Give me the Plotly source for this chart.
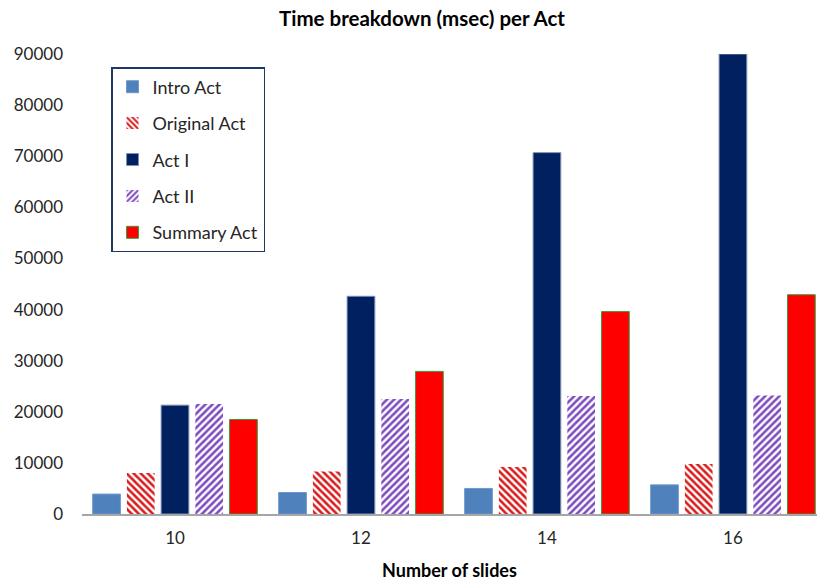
import plotly.graph_objects as go

# Number of slides per presentation (x categories)
slides = ["10", "12", "14", "16"]

# Time spent in each act, in milliseconds
intro_act = [3900, 4200, 5000, 5700]
original_act = [8000, 8300, 9200, 9800]
act_one = [21300, 42600, 70700, 90000]
act_two = [21500, 22500, 23100, 23200]
summary_act = [18500, 27900, 39600, 42900]

y_ticks = [0, 10000, 20000, 30000, 40000, 50000, 60000, 70000, 80000, 90000]
y_tick_labels = [str(v) for v in y_ticks]

FONT = "Lato, 'Open Sans', sans-serif"

fig = go.Figure()

fig.add_trace(go.Bar(
    name="Intro Act", x=slides, y=intro_act, legendgroup="a",
    marker=dict(color="#4F81BD", line=dict(color="#6E97CB", width=1)),
))
fig.add_trace(go.Bar(
    name="Original Act", x=slides, y=original_act, legendgroup="b",
    marker=dict(color="white", line=dict(width=0),
                pattern=dict(shape="\\", fillmode="overlay", fgcolor="#D81E1E",
                             fgopacity=1, size=5, solidity=0.52)),
))
fig.add_trace(go.Bar(
    name="Act I", x=slides, y=act_one, legendgroup="c",
    marker=dict(color="#002060", line=dict(color="#8090B0", width=1)),
))
fig.add_trace(go.Bar(
    name="Act II", x=slides, y=act_two, legendgroup="d",
    marker=dict(color="white", line=dict(width=0),
                pattern=dict(shape="/", fillmode="overlay", fgcolor="#7E4CBF",
                             fgopacity=1, size=5, solidity=0.52)),
))
fig.add_trace(go.Bar(
    name="Summary Act", x=slides, y=summary_act, legendgroup="e",
    marker=dict(color="#FF0000", line=dict(color="#3A9A3A", width=1)),
))

fig.update_layout(
    width=817, height=583,
    margin=dict(l=82, r=0, t=54, b=69),
    paper_bgcolor="white", plot_bgcolor="white",
    font=dict(family=FONT, size=17, color="#262626"),
    barmode="group", bargap=0.08, bargroupgap=0.19,
    showlegend=True,
    legend=dict(
        x=0.0395, y=0.9717, xanchor="left", yanchor="top",
        bordercolor="#1F3864", borderwidth=1.5, bgcolor="white",
        font=dict(family=FONT, size=18, color="#262626"),
        tracegroupgap=10, itemwidth=30,
    ),
    annotations=[dict(
        text="<b>Time breakdown (msec) per Act</b>",
        xref="paper", yref="paper", x=0.4626, y=1, yshift=36,
        xanchor="center", yanchor="middle", showarrow=False,
        font=dict(family=FONT, size=20.5, color="black"),
    )],
)

fig.update_xaxes(
    type="category", range=[-0.5, 3.452],
    showline=True, linecolor="#A6A6A6", linewidth=2,
    showgrid=False, ticks="", ticklabelstandoff=8,
    tickfont=dict(size=17),
    title=dict(text="<b>Number of slides</b>", standoff=17,
               font=dict(family=FONT, size=18, color="black")),
)
fig.update_yaxes(
    range=[0, 90000], tickvals=y_ticks, ticktext=y_tick_labels,
    showline=False, showgrid=False, zeroline=False,
    ticks="", ticklabelstandoff=18, tickfont=dict(size=17),
)

fig.write_html("out.html")
